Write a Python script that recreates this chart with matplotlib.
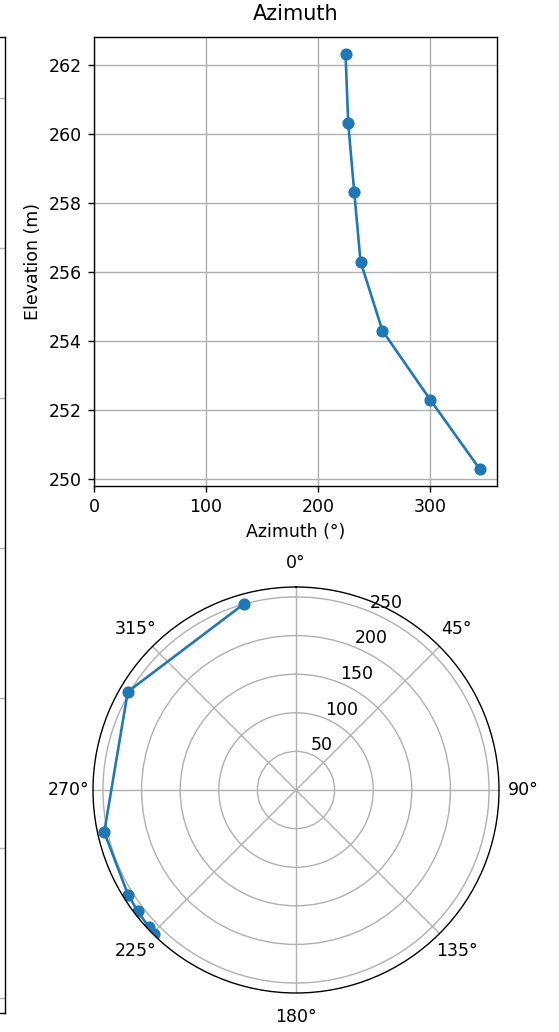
import numpy as np
import matplotlib
matplotlib.use("Agg")
import matplotlib.pyplot as plt

# Data
elevation = [250.3, 252.3, 254.3, 256.3, 258.3, 260.3, 262.3]
azimuth = [344.4, 300.3, 257.6, 238.1, 232.5, 227.1, 224.7]

# Left (cut-off) panel gridline levels
left_grid_levels = [98, 248, 398, 548, 698, 848, 998]

DPI = 125
fig = plt.figure(figsize=(559 / DPI, 1032 / DPI), dpi=DPI)

# Left panel, mostly outside the visible figure
axL = fig.add_axes([-0.4, 1 - 1013 / 1032, 0.4 + 4.5 / 559, (1013 - 37) / 1032])
axL.set_ylim(1013, 37)
axL.set_yticks(left_grid_levels)
axL.set_xticks([])
axL.grid(True, axis="y")
axL.tick_params(labelleft=False)

# Top-right: azimuth vs elevation
ax = fig.add_axes([94 / 559, 1 - 486 / 1032, (497 - 94) / 559, (486 - 37) / 1032])
ax.plot(azimuth, elevation, "o-", color="#1f77b4")
ax.set_xlim(0, 360)
ax.set_ylim(249.8, 262.8)
ax.set_yticks([250, 252, 254, 256, 258, 260, 262])
ax.set_xticks([0, 100, 200, 300])
ax.grid(True)
ax.set_title("Azimuth", pad=10)
ax.set_xlabel("Azimuth (°)")
ax.set_ylabel("Elevation (m)")

# Bottom: polar
axp = fig.add_axes([93 / 559, 1 - 993 / 1032, 406 / 559, 406 / 1032], projection="polar")
axp.plot(np.radians(azimuth), elevation, "o-", color="#1f77b4")
axp.set_theta_zero_location("N")
axp.set_theta_direction(-1)
axp.set_rticks([50, 100, 150, 200, 250])

fig.savefig("out.png", dpi=DPI)
